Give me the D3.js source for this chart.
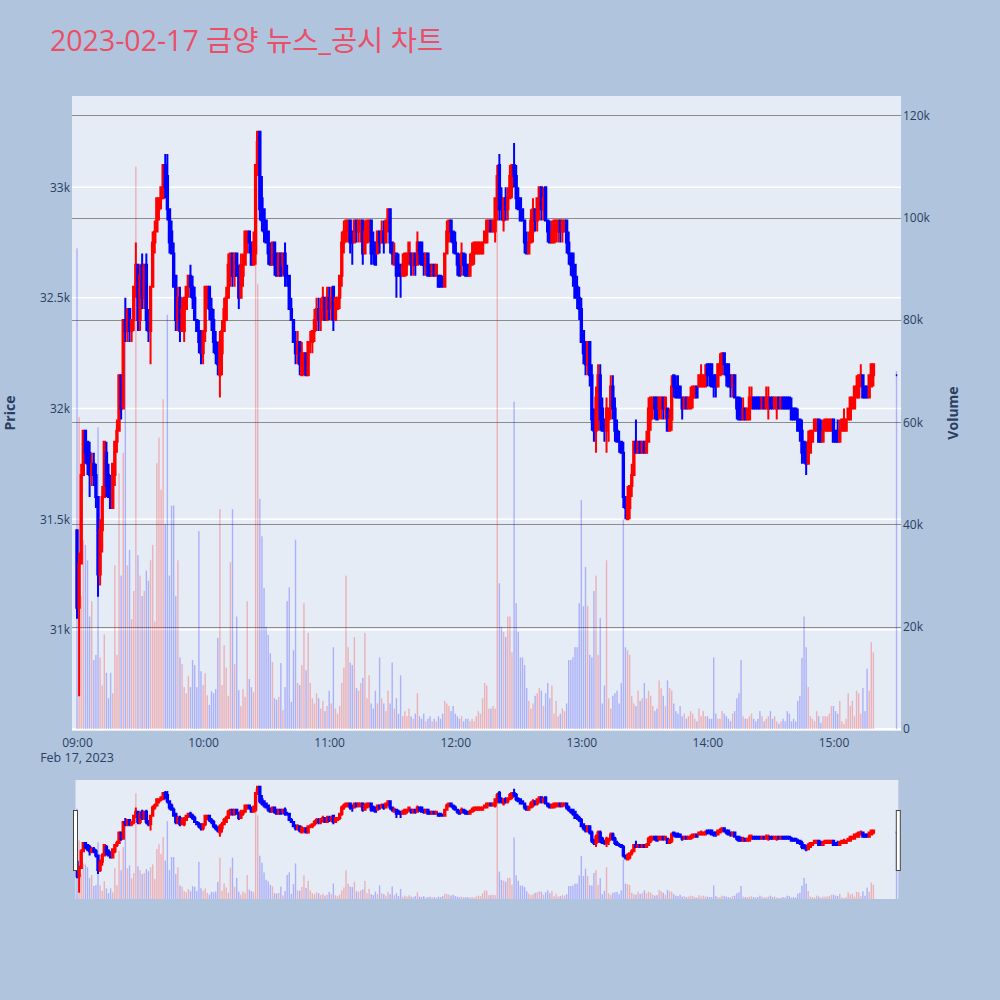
<!DOCTYPE html>
<html><head><meta charset="utf-8">
<script src="https://cdn.jsdelivr.net/npm/d3@7"></script>
<style>body{margin:0;background:#b0c4de;} svg{display:block}</style>
</head><body><svg id="c" width="1000" height="1000"></svg>
<script>
const titleText = "2023-02-17 금양 뉴스_공시 차트";
const dateLabel = "Feb 17, 2023";
const priceTicks = [31000, 31500, 32000, 32500, 33000];
const volumeTicks = [0, 20000, 40000, 60000, 80000, 100000, 120000];
const timeTickLabels = ["09:00","10:00","11:00","12:00","13:00","14:00","15:00"];

const opens = [
31450,31100,31300,31700,31900,31850,31800,31700,31750,31700,
31600,31250,31450,31600,31800,31700,31650,31550,31700,31850,
31900,32150,32000,32400,32350,32450,32350,32400,32550,32650,
32400,32650,32500,32650,32400,32350,32550,32750,32800,32900,
32950,32950,33100,33050,32900,32800,32700,32600,32400,32500,
32350,32350,32450,32550,32600,32550,32500,32400,32350,32350,
32250,32350,32500,32550,32450,32400,32300,32250,32150,32250,
32350,32400,32500,32600,32700,32600,32700,32600,32500,32600,
32650,32750,32800,32750,32650,32700,33100,33250,32950,32900,
32850,32800,32700,32650,32750,32700,32600,32700,32650,32700,
32600,32600,32450,32400,32300,32250,32300,32150,32200,32250,
32150,32300,32300,32350,32400,32450,32400,32450,32500,32400,
32500,32450,32550,32400,32450,32500,32600,32750,32800,32800,
32850,32800,32750,32850,32800,32800,32850,32700,32750,32800,
32850,32750,32750,32700,32800,32750,32800,32750,32800,32900,
32750,32650,32700,32650,32650,32600,32600,32650,32700,32700,
32650,32700,32650,32750,32750,32700,32650,32700,32650,32600,
32650,32600,32600,32600,32550,32550,32700,32800,32850,32800,
32750,32700,32650,32650,32700,32650,32650,32600,32650,32700,
32700,32700,32700,32700,32750,32750,32800,32850,32800,32800,
32900,33100,32950,32850,32950,32900,32950,33000,33100,33050,
32950,32950,32900,32850,32750,32700,32750,32800,32900,32850,
32900,33000,32900,33000,32850,32800,32750,32750,32800,32800,
32850,32800,32800,32850,32750,32700,32700,32650,32550,32500,
32450,32350,32300,32200,32300,32150,31950,31900,32000,32150,
32000,31950,31900,31950,32000,32100,32000,31900,31850,31850,
31800,31600,31500,31550,31650,31700,31850,31800,31850,31800,
31850,31800,31850,31950,32000,32050,32050,32000,32000,32050,
32000,32000,31900,31950,32150,32100,32100,32100,32050,32000,
32050,32000,32000,32050,32050,32100,32100,32100,32100,32100,
32200,32200,32200,32150,32150,32100,32150,32200,32250,32200,
32200,32150,32100,32150,32050,32050,32000,31950,32000,31950,
31950,32000,32050,32050,32050,32050,32000,32050,32000,32000,
32050,32050,32000,32000,32050,32000,32050,32050,32050,32050,
32000,32000,32000,31950,31950,31900,31850,31800,31750,31800,
31850,31900,31900,31950,31900,31850,31900,31900,31900,31900,
31950,31900,31900,31850,31900,31900,31900,31950,31950,32000,
32000,32050,32050,32100,32150,32100,32100,32050,32100,32150];
const highs = [
31450,31350,31750,31900,31900,31850,31850,31800,31800,31750,
31600,31500,31650,31850,31850,31750,31700,31750,31850,31950,
32150,32150,32400,32500,32450,32450,32400,32550,32750,32650,
32650,32700,32650,32700,32450,32550,32800,32850,32950,32950,
33000,33100,33150,33150,32900,32850,32750,32600,32550,32550,
32500,32500,32550,32600,32650,32600,32550,32400,32400,32350,
32350,32550,32550,32550,32500,32450,32350,32300,32350,32400,
32500,32550,32700,32700,32700,32700,32700,32650,32700,32700,
32800,32800,32800,32750,32800,33100,33250,33250,33050,32900,
32850,32800,32750,32750,32750,32700,32700,32700,32700,32750,
32650,32600,32500,32400,32350,32350,32300,32300,32250,32250,
32300,32350,32350,32450,32500,32500,32500,32550,32500,32550,
32550,32550,32550,32500,32500,32600,32800,32850,32850,32850,
32850,32800,32850,32850,32850,32850,32850,32850,32850,32850,
32850,32800,32750,32800,32800,32850,32850,32850,32900,32900,
32750,32750,32700,32700,32650,32700,32700,32700,32750,32700,
32700,32700,32800,32750,32750,32700,32700,32700,32650,32650,
32650,32650,32600,32600,32600,32700,32850,32850,32850,32800,
32800,32700,32700,32750,32700,32700,32650,32700,32750,32750,
32750,32750,32750,32750,32800,32850,32850,32850,32850,32950,
33100,33150,33000,32950,33000,33000,33100,33100,33200,33100,
33000,32950,32900,32850,32800,32800,32900,32950,32900,32950,
33000,33000,33000,33000,32850,32850,32850,32850,32850,32850,
32850,32850,32850,32850,32800,32700,32700,32650,32600,32550,
32500,32350,32300,32300,32300,32200,32000,32100,32200,32200,
32050,31950,32050,32000,32150,32150,32050,31950,31900,31850,
31850,31600,31650,31650,31750,31850,31950,31850,31850,31850,
31850,31900,32050,32050,32050,32050,32050,32050,32050,32050,
32050,32000,32000,32150,32150,32150,32150,32100,32050,32050,
32050,32050,32100,32100,32100,32100,32150,32200,32150,32200,
32200,32200,32200,32150,32150,32200,32250,32250,32250,32200,
32200,32150,32150,32150,32050,32050,32050,32050,32000,32000,
32100,32100,32050,32050,32050,32050,32050,32050,32100,32100,
32050,32050,32050,32050,32050,32050,32050,32050,32050,32050,
32050,32000,32000,32000,31950,31950,31850,31850,31900,31900,
31900,31950,31950,31950,31950,31950,31950,31950,31950,31950,
31950,31900,31950,31950,31950,32000,31950,32000,32050,32050,
32100,32150,32150,32200,32150,32100,32100,32150,32200,32200];
const lows = [
31050,30700,31300,31700,31750,31700,31600,31650,31650,31550,
31150,31200,31350,31600,31600,31600,31550,31550,31650,31800,
31900,31950,32000,32300,32300,32300,32300,32350,32500,32350,
32350,32450,32450,32350,32300,32200,32550,32700,32800,32850,
32900,32950,32950,32850,32700,32700,32550,32350,32350,32300,
32350,32300,32450,32500,32500,32450,32400,32350,32250,32200,
32200,32300,32450,32400,32350,32250,32200,32150,32050,32150,
32350,32400,32500,32550,32550,32550,32600,32450,32500,32550,
32650,32700,32700,32650,32650,32650,33050,32850,32800,32750,
32750,32650,32650,32650,32600,32600,32600,32600,32600,32550,
32550,32450,32400,32300,32200,32200,32150,32150,32150,32150,
32150,32250,32250,32300,32350,32350,32350,32400,32400,32400,
32400,32400,32350,32400,32450,32450,32550,32700,32750,32750,
32700,32650,32750,32750,32750,32750,32650,32700,32750,32750,
32650,32650,32650,32700,32700,32750,32700,32750,32800,32700,
32650,32650,32500,32600,32500,32600,32600,32600,32650,32600,
32600,32600,32650,32650,32650,32600,32600,32600,32600,32600,
32600,32600,32550,32550,32550,32550,32700,32750,32750,32700,
32700,32600,32600,32600,32600,32600,32600,32600,32650,32650,
32700,32700,32700,32700,32750,32750,32800,32800,32800,32750,
32850,32850,32850,32800,32850,32850,32950,32950,33000,32900,
32900,32850,32850,32700,32700,32700,32750,32750,32800,32800,
32850,32850,32850,32850,32750,32750,32750,32750,32750,32750,
32750,32750,32800,32700,32650,32600,32550,32500,32450,32400,
32300,32200,32150,32150,32100,31900,31850,31800,31900,31900,
31900,31850,31800,31850,31950,31950,31850,31850,31800,31800,
31550,31500,31500,31500,31600,31700,31800,31800,31800,31800,
31800,31800,31850,31900,31950,31950,31950,31950,31950,31950,
31950,31900,31900,31900,32050,32050,32050,32050,31950,32000,
32000,32000,32000,32000,32050,32050,32100,32100,32100,32100,
32100,32100,32100,32050,32050,32100,32150,32150,32150,32100,
32100,32050,32050,32050,31950,31950,31950,31950,31950,31950,
31950,32000,32000,32000,32000,32000,32000,32000,32000,31950,
32000,32000,32000,31950,32000,32000,32000,32000,32000,32000,
31950,31950,31950,31900,31850,31750,31750,31700,31750,31800,
31850,31900,31900,31850,31850,31850,31900,31900,31900,31900,
31850,31850,31850,31850,31900,31900,31900,31950,31950,32000,
32000,32050,32050,32100,32050,32050,32050,32050,32100,32100];
const closes = [
31100,31300,31700,31900,31800,31750,31700,31750,31700,31600,
31250,31450,31600,31850,31650,31600,31550,31750,31850,31900,
32150,32000,32400,32350,32450,32350,32400,32550,32650,32400,
32600,32500,32650,32400,32350,32550,32750,32800,32950,32950,
33000,33100,33000,32900,32750,32700,32550,32400,32500,32350,
32450,32500,32550,32600,32550,32500,32400,32350,32300,32250,
32350,32550,32550,32450,32400,32300,32250,32200,32300,32350,
32450,32500,32650,32700,32600,32700,32600,32500,32650,32650,
32800,32800,32750,32650,32750,33100,33250,32900,32850,32800,
32750,32700,32650,32750,32650,32600,32700,32600,32700,32600,
32600,32450,32400,32300,32250,32300,32200,32250,32250,32150,
32300,32300,32350,32400,32450,32400,32450,32500,32400,32500,
32450,32500,32400,32500,32500,32600,32750,32800,32850,32850,
32750,32750,32850,32800,32850,32850,32700,32800,32850,32850,
32700,32700,32650,32800,32750,32800,32750,32850,32900,32750,
32700,32700,32600,32600,32600,32650,32700,32700,32750,32650,
32700,32650,32750,32700,32650,32650,32700,32600,32600,32650,
32600,32650,32550,32550,32550,32700,32800,32850,32800,32750,
32700,32650,32600,32700,32650,32600,32600,32650,32700,32750,
32750,32750,32750,32750,32800,32850,32850,32800,32850,32950,
33050,32900,32900,32950,32900,32950,33050,33100,33050,32950,
32900,32850,32850,32750,32700,32750,32850,32900,32850,32950,
33000,32900,32950,32850,32800,32750,32800,32850,32850,32850,
32800,32850,32850,32750,32700,32650,32600,32500,32500,32450,
32300,32250,32200,32300,32150,31950,31900,32050,32150,31950,
31900,31900,32000,32000,32100,32000,31900,31850,31850,31800,
31600,31550,31600,31650,31700,31850,31800,31850,31800,31850,
31800,31850,32000,32050,32050,32000,31950,32050,32050,32000,
32050,31900,31950,32100,32100,32050,32050,32050,32000,32050,
32000,32050,32050,32100,32100,32050,32150,32150,32150,32150,
32150,32150,32100,32100,32100,32200,32200,32250,32200,32150,
32100,32100,32150,32050,32000,31950,31950,32000,31950,32000,
32050,32050,32000,32000,32000,32000,32050,32000,32050,32050,
32000,32000,32050,32050,32000,32050,32000,32000,32000,32000,
31950,31950,31950,31900,31900,31800,31800,31750,31850,31900,
31900,31950,31950,31850,31850,31900,31950,31950,31950,31950,
31850,31850,31850,31900,31950,31950,31950,32000,32050,32050,
32100,32100,32150,32150,32050,32050,32050,32150,32200,32200];
const volumes = [
94000,61000,26000,37000,36000,33000,22000,25000,13500,14500,
59000,14000,8500,18500,11000,6000,11000,7000,32000,14500,
50000,30000,54000,84000,32000,35000,21500,27000,110000,34000,
30000,26000,27000,31000,29000,33000,36000,21000,52000,57000,
46800,64500,40000,81000,30000,43700,43700,26000,33000,14000,
12700,8200,7000,10400,8200,13500,12500,8200,38700,11300,
8600,10900,6600,4700,7400,7000,7800,17800,43000,8600,
16400,12000,6500,32600,43000,12700,22000,7600,4500,7800,
6300,25000,9800,8200,7200,115000,87000,45000,37700,27600,
20000,18400,14800,13100,6000,5700,6300,12900,3700,8200,
25000,27700,5300,15400,37000,9000,8600,12500,24600,11500,
18800,9000,6000,5000,7000,6000,4000,5500,3500,4500,
7500,5000,16000,4000,3000,4500,9000,12000,30000,16000,
13000,12500,18000,8000,7500,9000,10000,18800,6000,10500,
5000,4000,7500,5000,14000,6000,5000,3500,7500,5000,
13000,4000,6000,3000,10500,2500,3500,2500,4000,2500,
2000,3000,7000,2500,2000,3000,1500,2000,2500,1500,
2000,1500,2500,2000,3000,5500,5000,4500,3500,4500,
3000,2500,2000,2500,1500,2000,2000,1500,2000,1500,
2500,3500,3000,6000,9000,8500,4000,4000,4500,4000,
110000,28500,20000,19000,18000,22000,22000,15000,64000,24600,
19000,14000,14000,12500,8000,5500,4000,5000,6500,7000,
8000,7500,4500,7000,9000,6000,8500,3000,5500,2500,
3000,4000,3500,5000,13500,13500,14000,16000,16000,24600,
44800,24000,31700,24000,14500,14000,27000,30000,14500,21700,
5000,8500,33000,6000,4000,6500,7000,7500,5000,9000,
41000,16000,15400,14500,6500,5000,4500,7500,5500,6000,
9000,6000,7500,6500,4500,3500,4000,9500,8000,6500,
4500,9500,8000,7500,5000,3500,3000,4500,2500,3000,
2000,2500,3500,3000,2000,1500,4000,2500,3500,2500,
2500,2000,2000,14000,3000,2000,2000,3500,3000,2500,
2000,1500,3000,3500,6000,7000,13500,2500,2000,2000,
2500,3000,2000,1500,2000,3500,2500,1500,2000,2500,
3500,2000,2500,1500,1000,1500,2000,1500,3500,3000,
1500,2000,1500,5500,6500,13900,22000,16000,8200,2500,
2000,1500,3500,2500,1200,2500,2500,2500,3000,4500,
4500,3500,3000,5500,1500,1000,2000,7000,4500,5500,
2500,7500,7000,3000,8000,3500,11800,7500,17000,15000];
// closing auction at 15:30
const auctionOHLCV = [32150, 32150, 32150, 32150, 70000];

const UP = "#ff0000", DOWN = "#0000ff", TXT = "#2a3f5f";
const FONT = "'Open Sans', 'Noto Sans CJK KR', verdana, arial, sans-serif";

const day = (h, m, s = 0) => new Date(2023, 1, 17, h, m, s);
const candles = opens.map((o, i) => ({ t: day(9, i), o, h: highs[i], l: lows[i], c: closes[i], v: volumes[i] }));
candles.push({ t: day(15, 30), o: auctionOHLCV[0], h: auctionOHLCV[1], l: auctionOHLCV[2], c: auctionOHLCV[3], v: auctionOHLCV[4] });
let prevUp = false;
candles.forEach((d, i) => {
  if (d.c > d.o) d.up = true;
  else if (d.c < d.o) d.up = false;
  else d.up = i > 0 ? (d.c > candles[i - 1].c ? true : (d.c < candles[i - 1].c ? false : prevUp)) : false;
  prevUp = d.up;
});

const svg = d3.select("#c");
const PL = 72, PR = 901, PT = 96, PB = 731;
const x = d3.scaleTime().domain([day(8, 57, 37), day(15, 32, 8)]).range([PL, PR]);
const yP = d3.scaleLinear().domain([30552, 33412]).range([729, PT]);
const yV = d3.scaleLinear().domain([0, 123800]).range([729, PT]);
const SL = 75.5, SR = 898.3, ST = 780, SB = 899;
const ysP = d3.scaleLinear().domain(yP.domain()).range([SB, ST]);
const ysV = d3.scaleLinear().domain(yV.domain()).range([SB, ST]);

const defs = svg.append("defs");
defs.append("clipPath").attr("id", "clipMain").append("rect").attr("x", PL).attr("y", PT).attr("width", PR - PL).attr("height", PB - PT);
defs.append("clipPath").attr("id", "clipSl").append("rect").attr("x", SL).attr("y", ST).attr("width", SR - SL).attr("height", SB - ST);

// title
svg.append("text").attr("x", 50).attr("y", 51).attr("font-family", FONT).attr("font-size", 28.5)
  .attr("fill", "#ea4f67").text(titleText);

// main plot
svg.append("rect").attr("x", PL).attr("y", PT).attr("width", PR - PL).attr("height", PB - PT).attr("fill", "#e5ecf6");
svg.append("g").selectAll("line").data(priceTicks).join("line")
  .attr("x1", PL).attr("x2", PR).attr("y1", d => yP(d)).attr("y2", d => yP(d))
  .attr("stroke", "#ffffff").attr("stroke-width", 1.5);
svg.append("line").attr("x1", PL).attr("x2", PR).attr("y1", yV(0)).attr("y2", yV(0)).attr("stroke", "#ffffff").attr("stroke-width", 2);
svg.append("g").selectAll("line").data(volumeTicks.filter(d => d > 0)).join("line")
  .attr("x1", PL).attr("x2", PR).attr("y1", d => Math.round(yV(d)) + 0.5).attr("y2", d => Math.round(yV(d)) + 0.5)
  .attr("stroke", "#8c8c8c").attr("stroke-width", 1);

const BW = 1.4, VW = 1.4;
function drawVolume(g, ys) {
  g.selectAll("rect").data(candles).join("rect")
    .attr("x", d => x(d.t) - VW / 2).attr("width", VW)
    .attr("y", d => ys(d.v)).attr("height", d => ys(0) - ys(d.v))
    .attr("fill", d => d.up ? UP : DOWN).attr("fill-opacity", 0.25);
}
function drawCandles(g, ys) {
  g.selectAll("path").data(candles).join("path")
    .attr("d", d => {
      const xc = x(d.t), x0 = xc - BW / 2, x1 = xc + BW / 2;
      const yo = ys(d.o), yc = ys(d.c), yt = Math.min(yo, yc), yb = Math.max(yo, yc);
      return `M${x0},${yo}H${x1}V${yc}H${x0}Z M${xc},${yt}V${ys(d.h)} M${xc},${yb}V${ys(d.l)}`;
    })
    .attr("stroke", d => d.up ? UP : DOWN).attr("fill", d => d.up ? UP : DOWN)
    .attr("stroke-width", 2);
}
const gMain = svg.append("g").attr("clip-path", "url(#clipMain)");
drawVolume(gMain.append("g"), yV);
drawCandles(gMain.append("g"), yP);

// axes
function styleAxis(g) {
  g.select(".domain").remove();
  g.selectAll("text").attr("font-family", FONT).attr("font-size", 12).attr("fill", TXT);
}
svg.append("g").attr("transform", `translate(${PL},0)`)
  .call(d3.axisLeft(yP).tickValues(priceTicks).tickSize(0).tickPadding(2).tickFormat(d3.format("~s")))
  .call(styleAxis);
svg.append("g").attr("transform", `translate(${PR},0)`)
  .call(d3.axisRight(yV).tickValues(volumeTicks).tickSize(0).tickPadding(2).tickFormat(d3.format("~s")))
  .call(styleAxis);
const tickDates = timeTickLabels.map(s => day(+s.slice(0, 2), +s.slice(3)));
svg.append("g").attr("transform", `translate(0,729)`)
  .call(d3.axisBottom(x).tickValues(tickDates).tickSize(0).tickPadding(9.5).tickFormat(d3.timeFormat("%H:%M")))
  .call(styleAxis);
svg.append("text").attr("x", x(tickDates[0])).attr("y", 762).attr("text-anchor", "middle")
  .attr("font-family", FONT).attr("font-size", 12.5).attr("fill", TXT).text(dateLabel);

svg.append("text").attr("transform", "translate(15,413) rotate(-90)").attr("text-anchor", "middle")
  .attr("font-family", FONT).attr("font-size", 14).attr("font-weight", "bold").attr("fill", TXT).text("Price");
svg.append("text").attr("transform", "translate(958,413) rotate(-90)").attr("text-anchor", "middle")
  .attr("font-family", FONT).attr("font-size", 14).attr("font-weight", "bold").attr("fill", TXT).text("Volume");

// range slider
svg.append("rect").attr("x", SL).attr("y", ST).attr("width", SR - SL).attr("height", SB - ST).attr("fill", "#e5ecf6");
const gSl = svg.append("g").attr("clip-path", "url(#clipSl)");
drawVolume(gSl.append("g"), ysV);
drawCandles(gSl.append("g"), ysP);
[SL, SR].forEach(hx => {
  svg.append("rect").attr("x", hx - 2).attr("y", 810.5).attr("width", 4).attr("height", 60)
    .attr("fill", "#ffffff").attr("stroke", "#444444").attr("stroke-width", 1);
});
</script></body></html>
